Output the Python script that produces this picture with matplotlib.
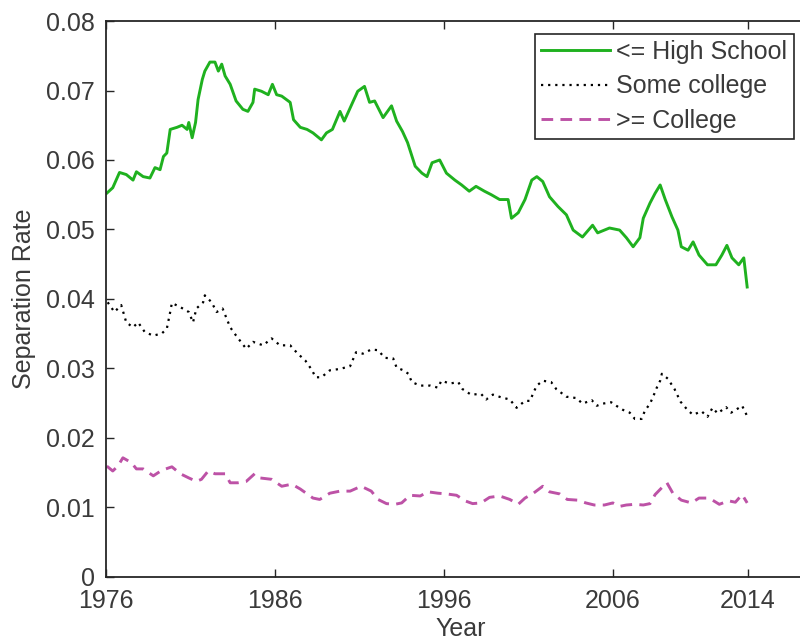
import matplotlib
matplotlib.use("Agg")
import matplotlib.pyplot as plt
from matplotlib.ticker import FixedLocator, FuncFormatter

plt.rcParams['font.family'] = ['Liberation Sans', 'DejaVu Sans']

# <= High School
hs_years = [1976.04, 1976.4, 1976.8, 1977.2, 1977.6, 1977.8, 1978.2, 1978.6, 1978.9,
            1979.2, 1979.4, 1979.6, 1979.8, 1980.2, 1980.5, 1980.8, 1980.9, 1981.1,
            1981.3, 1981.45, 1981.7, 1981.85, 1982.15, 1982.45, 1982.65, 1982.85,
            1983.05, 1983.35, 1983.7, 1984.1, 1984.4, 1984.7, 1984.8, 1985.2, 1985.6,
            1985.85, 1986.1, 1986.4, 1986.9, 1987.1, 1987.5, 1987.9, 1988.25, 1988.75,
            1989.05, 1989.4, 1989.85, 1990.1, 1990.6, 1990.9, 1991.3, 1991.6, 1991.9,
            1992.4, 1992.9, 1993.2, 1993.55, 1993.85, 1994.3, 1994.7, 1995.0, 1995.3,
            1995.75, 1996.15, 1996.65, 1997.05, 1997.5, 1997.9, 1998.4, 1998.8, 1999.3,
            1999.8, 2000.0, 2000.4, 2000.8, 2001.2, 2001.5, 2001.85, 2002.25, 2002.75,
            2003.25, 2003.65, 2004.2, 2004.8, 2005.1, 2005.8, 2006.4, 2006.8, 2007.2,
            2007.6, 2007.8, 2008.2, 2008.5, 2008.8, 2009.1, 2009.5, 2009.85, 2010.05,
            2010.45, 2010.75, 2011.1, 2011.6, 2012.1, 2012.45, 2012.75, 2013.05,
            2013.45, 2013.75, 2013.95]
hs_rate = [0.0552, 0.0560, 0.0582, 0.0579, 0.0571, 0.0583, 0.0576, 0.0574, 0.0589,
           0.0586, 0.0605, 0.0610, 0.0644, 0.0647, 0.0650, 0.0644, 0.0654, 0.0632,
           0.0654, 0.0687, 0.0716, 0.0728, 0.0741, 0.0741, 0.0728, 0.0738,
           0.0721, 0.0709, 0.0685, 0.0673, 0.0670, 0.0683, 0.0702, 0.0699, 0.0694,
           0.0709, 0.0694, 0.0692, 0.0683, 0.0658, 0.0647, 0.0644, 0.0639, 0.0629,
           0.0639, 0.0644, 0.0670, 0.0656, 0.0683, 0.0699, 0.0706, 0.0683, 0.0685,
           0.0661, 0.0678, 0.0656, 0.0641, 0.0625, 0.0591, 0.0581, 0.0576, 0.0596,
           0.0600, 0.0581, 0.0571, 0.0564, 0.0555, 0.0562, 0.0555, 0.0550, 0.0543,
           0.0543, 0.0516, 0.0524, 0.0543, 0.0571, 0.0576, 0.0569, 0.0547, 0.0533,
           0.0521, 0.0499, 0.0489, 0.0506, 0.0495, 0.0502, 0.0499, 0.0488, 0.0475,
           0.0488, 0.0516, 0.0538, 0.0552, 0.0564, 0.0543, 0.0518, 0.0499, 0.0475,
           0.0470, 0.0482, 0.0463, 0.0449, 0.0449, 0.0463, 0.0477, 0.0459,
           0.0449, 0.0459, 0.0417]

# Some college
sc_years = [1976.1, 1976.5, 1976.9, 1977.2, 1977.6, 1977.9, 1978.3, 1978.8, 1979.3,
            1979.6, 1979.8, 1979.9, 1980.4, 1980.9, 1981.15, 1981.35, 1981.75, 1981.85,
            1982.25, 1982.55, 1982.9, 1983.35, 1983.7, 1984.3, 1984.7, 1985.3, 1985.8,
            1986.3, 1986.9, 1987.35, 1987.8, 1988.2, 1988.4, 1988.75, 1989.25, 1989.85,
            1990.45, 1990.8, 1991.2, 1991.7, 1992.1, 1992.5, 1993.0, 1993.2, 1993.6,
            1993.9, 1994.1, 1994.6, 1995.2, 1995.65, 1995.85, 1996.35, 1996.85, 1997.1,
            1997.6, 1998.2, 1998.5, 1998.9, 1999.4, 1999.9, 2000.3, 2000.8, 2001.1,
            2001.3, 2001.5, 2001.85, 2002.35, 2002.65, 2003.25, 2003.85, 2004.2,
            2004.75, 2005.05, 2005.4, 2005.9, 2006.2, 2006.6, 2007.0, 2007.3, 2007.7,
            2007.9, 2008.2, 2008.4, 2008.6, 2008.8, 2008.9, 2009.25, 2009.65, 2010.0,
            2010.45, 2010.75, 2011.25, 2011.6, 2011.9, 2012.2, 2012.7, 2013.0, 2013.4,
            2013.65, 2013.95]
sc_rate = [0.0395, 0.0381, 0.0391, 0.0366, 0.0359, 0.0366, 0.0352, 0.0347, 0.0350,
           0.0357, 0.0381, 0.0394, 0.0388, 0.0381, 0.0366, 0.0386, 0.0395, 0.0405,
           0.0395, 0.0381, 0.0386, 0.0359, 0.0347, 0.0328, 0.0338, 0.0333, 0.0343,
           0.0333, 0.0333, 0.0321, 0.0311, 0.0297, 0.0287, 0.0287, 0.0297, 0.0299,
           0.0303, 0.0323, 0.0321, 0.0327, 0.0326, 0.0315, 0.0314, 0.0301, 0.0297,
           0.0292, 0.0280, 0.0275, 0.0275, 0.0272, 0.0282, 0.0278, 0.0280, 0.0270,
           0.0262, 0.0263, 0.0255, 0.0262, 0.0258, 0.0255, 0.0243, 0.0253, 0.0253,
           0.0265, 0.0275, 0.0282, 0.0280, 0.0270, 0.0259, 0.0257, 0.0249,
           0.0254, 0.0246, 0.0249, 0.0251, 0.0246, 0.0240, 0.0236, 0.0227, 0.0227,
           0.0239, 0.0249, 0.0260, 0.0272, 0.0282, 0.0292, 0.0285, 0.0270, 0.0252,
           0.0239, 0.0233, 0.0238, 0.0230, 0.0243, 0.0235, 0.0244, 0.0236, 0.0242,
           0.0246, 0.0231]

# >= College
col_years = [1976.05, 1976.4, 1976.7, 1977.0, 1977.5, 1977.8, 1978.2, 1978.8, 1979.3,
             1979.9, 1980.4, 1980.9, 1981.35, 1981.65, 1982.05, 1982.45, 1983.05,
             1983.35, 1983.8, 1984.3, 1984.8, 1985.1, 1985.8, 1986.4, 1987.0, 1987.5,
             1988.25, 1988.65, 1989.25, 1989.85, 1990.45, 1991.1, 1991.7, 1992.1,
             1992.6, 1993.1, 1993.5, 1994.0, 1994.6, 1995.05, 1995.65, 1996.15,
             1996.75, 1997.25, 1997.7, 1998.2, 1998.7, 1999.3, 1999.9, 2000.4, 2000.8,
             2001.3, 2001.85, 2002.25, 2002.85, 2003.3, 2003.9, 2004.4, 2004.9, 2005.5,
             2006.0, 2006.4, 2006.8, 2007.3, 2007.8, 2008.2, 2008.5, 2008.9, 2009.2,
             2009.55, 2010.05, 2010.65, 2011.1, 2011.7, 2012.3, 2012.85, 2013.25,
             2013.65, 2013.95]
col_rate = [0.0159, 0.0152, 0.0159, 0.0171, 0.0164, 0.0155, 0.0155, 0.0145, 0.0153,
            0.0158, 0.0148, 0.0142, 0.0137, 0.0140, 0.0152, 0.0148, 0.0148,
            0.0135, 0.0135, 0.0137, 0.0148, 0.0142, 0.0140, 0.0130, 0.0133, 0.0126,
            0.0113, 0.0111, 0.0120, 0.0123, 0.0123, 0.0130, 0.0123, 0.0111,
            0.0105, 0.0104, 0.0106, 0.0117, 0.0116, 0.0122, 0.0120, 0.0119,
            0.0117, 0.0109, 0.0105, 0.0106, 0.0114, 0.0116, 0.0111, 0.0104, 0.0113,
            0.0120, 0.0130, 0.0122, 0.0119, 0.0111, 0.0110, 0.0106, 0.0103, 0.0103,
            0.0106, 0.0101, 0.0103, 0.0104, 0.0103, 0.0105, 0.0118, 0.0128, 0.0135,
            0.0120, 0.0110, 0.0106, 0.0113, 0.0113, 0.0104, 0.0109, 0.0107,
            0.0118, 0.0106]

year_ticks = [1976, 1986, 1996, 2006, 2014]
rate_ticks = [0, 0.01, 0.02, 0.03, 0.04, 0.05, 0.06, 0.07, 0.08]

text_color = '#3a3a3a'
fsize = 18

fig = plt.figure(figsize=(8.0, 6.44), dpi=100)
ax = fig.add_axes([0.1325, 0.1048, 0.887, 0.8624])

ax.plot(hs_years, hs_rate, color='#1fb11f', lw=2.1, ls='-', label='<= High School')
ax.plot(sc_years, sc_rate, color='black', lw=1.6, ls=(0, (1, 2.2)), label='Some college')
ax.plot(col_years, col_rate, color='#bd52a6', lw=2.1, ls=(0, (4, 2.5)), label='>= College')

ax.set_xlim(1976, 2018)
ax.set_ylim(0, 0.08)
ax.xaxis.set_major_locator(FixedLocator(year_ticks))
ax.yaxis.set_major_locator(FixedLocator(rate_ticks))
ax.yaxis.set_major_formatter(FuncFormatter(lambda v, p: f'{v:g}'))

ax.tick_params(direction='in', length=6, width=1.0, top=True, right=True,
               labelsize=fsize, colors='#262626', labelcolor=text_color)
ax.tick_params(axis='x', pad=9)
ax.tick_params(axis='y', pad=8)
for s in ax.spines.values():
    s.set_linewidth(1.3)
    s.set_color('#262626')

ax.set_xlabel('Year', fontsize=fsize, color=text_color, labelpad=3)
ax.set_ylabel('Separation Rate', fontsize=fsize, color=text_color, labelpad=7)

leg = ax.legend(loc='upper left', bbox_to_anchor=(535 / 800, 1 - 33.5 / 644),
                bbox_transform=fig.transFigure, fontsize=fsize, frameon=True,
                fancybox=False, edgecolor='#262626', framealpha=1,
                handlelength=2.75, handletextpad=0.25, labelspacing=0.42,
                borderpad=0.25, borderaxespad=0)
leg.get_frame().set_linewidth(1.2)
for t in leg.get_texts():
    t.set_color(text_color)

fig.savefig('out.png', dpi=100)
